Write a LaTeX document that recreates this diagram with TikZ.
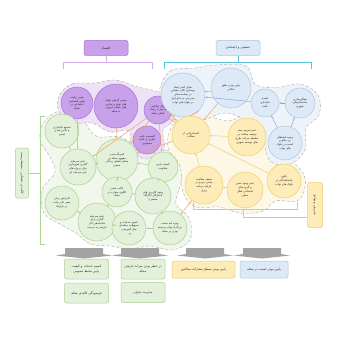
\documentclass[tikz,border=0pt]{standalone}
\usepackage{fontspec}
\newfontfamily\arabicfont[Script=Arabic]{DejaVu Sans}
\TeXXeTstate=1
\usetikzlibrary{arrows.meta}
\newcommand{\rl}[1]{\beginR #1\endR}
\definecolor{pfill}{HTML}{C9A0EA}
\definecolor{pdraw}{HTML}{A673D6}
\definecolor{pblob}{HTML}{EEE2F6}
\definecolor{bfill}{HTML}{DDE9F6}
\definecolor{bdraw}{HTML}{A9C6E2}
\definecolor{bblob}{HTML}{EEF3FA}
\definecolor{yfill}{HTML}{FDEBB8}
\definecolor{ydraw}{HTML}{F0CD6E}
\definecolor{yblob}{HTML}{FDF7E6}
\definecolor{gfill}{HTML}{E4F1DA}
\definecolor{gdraw}{HTML}{A8D08D}
\definecolor{gblob}{HTML}{F1F7ED}
\definecolor{orng}{HTML}{F4A25E}
\definecolor{cyanb}{HTML}{5BC3E0}
\definecolor{purb}{HTML}{D9AEEC}
\definecolor{yelb}{HTML}{EBC955}
\definecolor{grnb}{HTML}{A9D48E}
\definecolor{grayar}{HTML}{A3A3A3}
\tikzset{
  circ/.style={circle, draw, line width=0.5pt, inner sep=0pt, align=center,
    font=\arabicfont\fontsize{2.8}{3.8}\selectfont, text=black!85},
  pc/.style={circ, fill=pfill, draw=pdraw, minimum size=#1},
  bc/.style={circ, fill=bfill, draw=bdraw, minimum size=#1},
  yc/.style={circ, fill=yfill, draw=ydraw, minimum size=#1},
  gc/.style={circ, fill=gfill, draw=gdraw, minimum size=#1},
  blob/.style={draw=black!35, densely dashed, line width=0.35pt},
  arr/.style={-{Stealth[length=2.2pt,width=1.8pt]}, line width=0.4pt},
  oarr/.style={arr, draw=orng, fill=orng},
  barr/.style={arr, draw=bdraw!80!blue, fill=bdraw!80!blue},
  yarr/.style={arr, draw=ydraw, fill=ydraw},
  garr/.style={arr, draw=gdraw, fill=gdraw},
  box/.style={rounded corners=2pt, draw, line width=0.5pt, align=center, inner sep=1pt,
    font=\arabicfont\fontsize{3.2}{4.4}\selectfont, text=black!85},
  brk/.style={line width=0.8pt},
  garrow/.style={fill=grayar, draw=none}
}
\begin{document}
\begin{tikzpicture}[x=1pt,y=-1pt]
\useasboundingbox (0,0) rectangle (337,337);
\fill[white] (0,0) rectangle (337,337);

% blobs
\filldraw[blob, fill=gblob] plot[smooth cycle, tension=0.6] coordinates {
 (44,122) (60,111) (80,117) (96,136) (120,137) (145,150) (165,150) (181,160) (181,182)
 (176,204) (189,218) (190,240) (172,250) (150,246) (130,249) (110,246) (90,244) (76,233)
 (60,224) (44,213) (42,190) (55,172) (50,157) (40,140)};
\filldraw[blob, fill=yblob] plot[smooth cycle, tension=0.6] coordinates {
 (171,128) (185,113) (205,115) (228,121) (248,115) (268,127) (270,154) (290,160) (305,178)
 (299,200) (276,201) (263,211) (240,213) (219,207) (195,207) (183,192) (180,166) (168,148)};
\filldraw[blob, fill=bblob] plot[smooth cycle, tension=0.6] coordinates {
 (159,92) (170,71) (195,68) (215,65) (246,66) (256,85) (280,87) (300,84) (318,95)
 (319,115) (306,128) (305,150) (290,164) (270,161) (262,136) (250,122) (225,113)
 (206,119) (180,121) (162,110)};
\filldraw[blob, fill=pblob] plot[smooth cycle, tension=0.6] coordinates {
 (59,96) (72,84) (95,83) (115,80) (138,87) (158,92) (175,103) (173,121) (163,130)
 (164,150) (147,159) (131,151) (129,131) (110,132) (92,123) (72,123) (59,112)};

% top boxes and brackets
\node[box, fill=pfill, draw=pdraw, minimum width=44pt, minimum height=15pt] (econ) at (106,48) {\rl{اقتصاد}};
\node[box, fill=bfill, draw=bdraw, minimum width=44pt, minimum height=15pt] (soc) at (238,48) {\rl{جمعیتی و اجتماعی}};
\coordinate (pm) at (106,62);
\coordinate (bm) at (238,62);
\draw[brk, draw=purb] (63,69) -- (63,62) -- (152,62) -- (152,69);
\draw[brk, draw=purb] (pm) -- (econ.south);
\draw[brk, draw=cyanb] (164,69) -- (164,62) -- (311,62) -- (311,69);
\draw[brk, draw=cyanb] (bm) -- (soc.south);

% side boxes and brackets
\node[box, fill=gfill, draw=gdraw, minimum width=13pt, minimum height=50pt] (phys) at (22,173) {};
\node[rotate=-90, font=\arabicfont\fontsize{3.2}{4}\selectfont, text=black!85] at (phys.center) {\rl{کالبدی - فضایی - محیط زیست}};
\coordinate (gm) at (40,173);
\draw[brk, draw=grnb] (45,116) -- (40,116) -- (40,244) -- (45,244);
\draw[brk, draw=grnb] (gm) -- (phys.east);
\node[box, fill=yfill, draw=ydraw, minimum width=15pt, minimum height=45pt] (mgmt) at (315,205) {};
\node[rotate=-90, font=\arabicfont\fontsize{3.2}{4}\selectfont, text=black!85] at (mgmt.center) {\rl{مدیریتی و نهادی}};
\coordinate (ym) at (243,209);
\coordinate (yc) at (243,217);
\draw[brk, draw=yelb] (193,202) -- (193,209) -- (297,209) -- (297,202);
\draw[brk, draw=yelb] (ym) -- (yc) -- (yc -| mgmt.west);

% purple circles
\node[pc=32pt] (P1) at (77,103) {\rl{تغییر ترکیب}\\\rl{نقش اقتصادی}\\\rl{اجتماعی در}\\\rl{محله}};
\node[pc=44pt] (P2) at (116,106) {\rl{پیشی گرفتن بلوک}\\\rl{های تولید و تجاری}\\\rl{های خیابان قزوین}\\\rl{به محله}};
\node[pc=28pt] (P3) at (158,110) {\rl{زوال ساکنین}\\\rl{قدیمی / زمینه}\\\rl{اصلی محله}};
\node[pc=28pt] (P4) at (147,140) {\rl{گسست بافت}\\\rl{تجاری از بافت}\\\rl{مسکونی}};

% blue circles
\node[bc=44pt] (B1) at (183,95) {\rl{تمایل کمتر ایجاد}\\\rl{نوسازی کلان مقیاس}\\\rl{در سیاست‌های}\\\rl{مدیریتی به جای اول}\\\rl{در بلوک های نواب}};
\node[bc=40pt] (B2) at (231,88) {\rl{پایین بودن تعلق}\\\rl{مکانی}};
\node[bc=28pt] (B3) at (265,103) {\rl{تشدید}\\\rl{ناپایداری}\\\rl{بافت}};
\node[bc=30pt] (B4) at (300,103) {\rl{همگن‌سازی}\\\rl{ساختمان‌های}\\\rl{شهری}};
\node[bc=34pt] (B5) at (285,143) {\rl{وجود فضاهای}\\\rl{بی دفاع و}\\\rl{امنیت در بلوک}\\\rl{های نواب}};

% yellow circles
\node[yc=38pt] (Y1) at (191,135) {\rl{اعتمادزدایی از}\\\rl{محلات}};
\node[yc=38pt] (Y2) at (247,137) {\rl{عدم تعریف سند}\\\rl{توسعه محلات در}\\\rl{سلسله مراتب طرح}\\\rl{های توسعه شهری}};
\node[yc=38pt] (Y3) at (204,185) {\rl{ضعف سلامت}\\\rl{نشدن مردم در}\\\rl{فرایند برنامه}\\\rl{ریزی}};
\node[yc=36pt] (Y4) at (245,190) {\rl{عدم وجود سمن}\\\rl{و گروه های}\\\rl{اجتماعی فعال}\\\rl{محلی}};
\node[yc=34pt] (Y5) at (284,181) {\rl{بالون}\\\rl{جابجاشدگی در}\\\rl{بلوک های نواب}};

% green circles
\node[gc=34pt] (G1) at (62,131) {\rl{تجمیع ناپایداری}\\\rl{و ناامن شدن}\\\rl{ایمنی}};
\node[gc=42pt] (G2) at (117,160) {\rl{کمرنگ شدن}\\\rl{مفهوم محله در}\\\rl{معنای فضای زندگی}\\\rl{جمعی}};
\node[gc=36pt] (G3) at (78,167) {\rl{عدم سرمایه}\\\rl{گذاری شهرداری}\\\rl{برای پروژه های}\\\rl{غیر سرمایه ای}};
\node[gc=30pt] (G4) at (163,167) {\rl{کیفیت پایین}\\\rl{سکونت}};
\node[gc=34pt] (G5) at (62,203) {\rl{افزایش زمان}\\\rl{سفر عابر پیاده}\\\rl{در بازارها}};
\node[gc=30pt] (G6) at (117,192) {\rl{غالب شدن}\\\rl{الگوی سواره در}\\\rl{محله}};
\node[gc=36pt] (G7) at (153,196) {\rl{وجود کاربری های}\\\rl{ناسازگار (کارگاه}\\\rl{صنعتی)}};
\node[gc=38pt] (G8) at (97,222) {\rl{عدم سرمایه}\\\rl{گذاری برای}\\\rl{ساماندهی آثار}\\\rl{تاریخی به مرمت}};
\node[gc=34pt] (G9) at (129,228) {\rl{کمبود خدمات و}\\\rl{تسهیلات محله‌ای}\\\rl{مثل آموزشی}\\\rl{و...}};
\node[gc=34pt] (G10) at (170,228) {\rl{وجود لبه سخت}\\\rl{بزرگراه نواب و بسته}\\\rl{بودن در محله}};

% orange connectors
\draw[oarr] (P1) -- (G3);
\draw[oarr] (P2) -- (G2);
\draw[oarr] (P3) -- (G2);
\draw[oarr] (P3) -- (G3);
\draw[oarr] (P4) -- (G2);
\draw[oarr] (P3) -- (G4);
\draw[oarr] (P4) -- (G4);
\draw[oarr] (Y1) -- (P3);
\draw[oarr] (Y1) -- (G2);
\draw[oarr] (Y1.north west) -- (B1.south west);
\draw[oarr] (Y1.north) -- (B1.south east);
\draw[oarr] (B2) -- (Y1);
\draw[oarr] (Y3) -- (G10);

% blue connectors
\draw[barr] (B2) -- (B1);
\draw[barr] (B3) -- (B1);
\draw[barr] (B5) -- (B3);
\draw[barr] (B5) -- (B4);
\draw[barr] (B4) -- (B3);

% yellow connectors
\draw[yarr] (Y2) -- (Y1);
\draw[yarr] (Y5) -- (Y1);
\draw[yarr] (Y3) -- (Y1);
\draw[yarr] (Y4) -- (Y3);

% green connectors
\draw[garr] (G3) -- (G1);
\draw[garr] (G2) -- (G3);
\draw[garr] (G6) -- (G2);
\draw[garr] (G4) -- (G2);
\draw[garr] (G7) -- (G6);
\draw[garr] (G7) -- (G4);
\draw[garr] (G8) -- (G5);
\draw[garr] (G9) -- (G8);
\draw[garr] (G10) -- (G9);
\draw[garr] (G10) -- (G7);
\draw[garr] (G8) -- (G6);

% gray arrows
\foreach \cx in {84,140,205,262}{
  \fill[garrow] (\cx-19,248) -- (\cx+19,248) -- (\cx+19,254) -- (\cx+28,255.5) -- (\cx,258.5) -- (\cx-28,255.5) -- (\cx-19,254) -- cycle;
}

% bottom boxes
\node[box, fill=gfill, draw=gdraw, minimum width=44pt, minimum height=20pt] (R1) at (86.5,269) {\rl{کمبود خدمات و کیفیت}\\\rl{پایین محیط عمومی}};
\node[box, fill=gfill, draw=gdraw, minimum width=44pt, minimum height=20pt] (R2) at (86.5,293) {\rl{فرسودگی کالبدی محله}};
\node[box, fill=gfill, draw=gdraw, minimum width=44pt, minimum height=20pt] (R3) at (143,269) {\rl{در خطر بودن میراث تاریخی}\\\rl{محله}};
\node[box, fill=gfill, draw=gdraw, minimum width=44pt, minimum height=20pt] (R4) at (143,292.5) {\rl{مدیریت بحران}};
\node[box, fill=yfill, draw=ydraw, minimum width=63pt, minimum height=17pt] (R5) at (203.5,269.5) {\rl{پایین بودن سطح مشارکت ساکنین}};
\node[box, fill=bfill, draw=bdraw, minimum width=48pt, minimum height=17pt] (R6) at (264,269.5) {\rl{پایین بودن امنیت در محله}};
\end{tikzpicture}
\end{document}
